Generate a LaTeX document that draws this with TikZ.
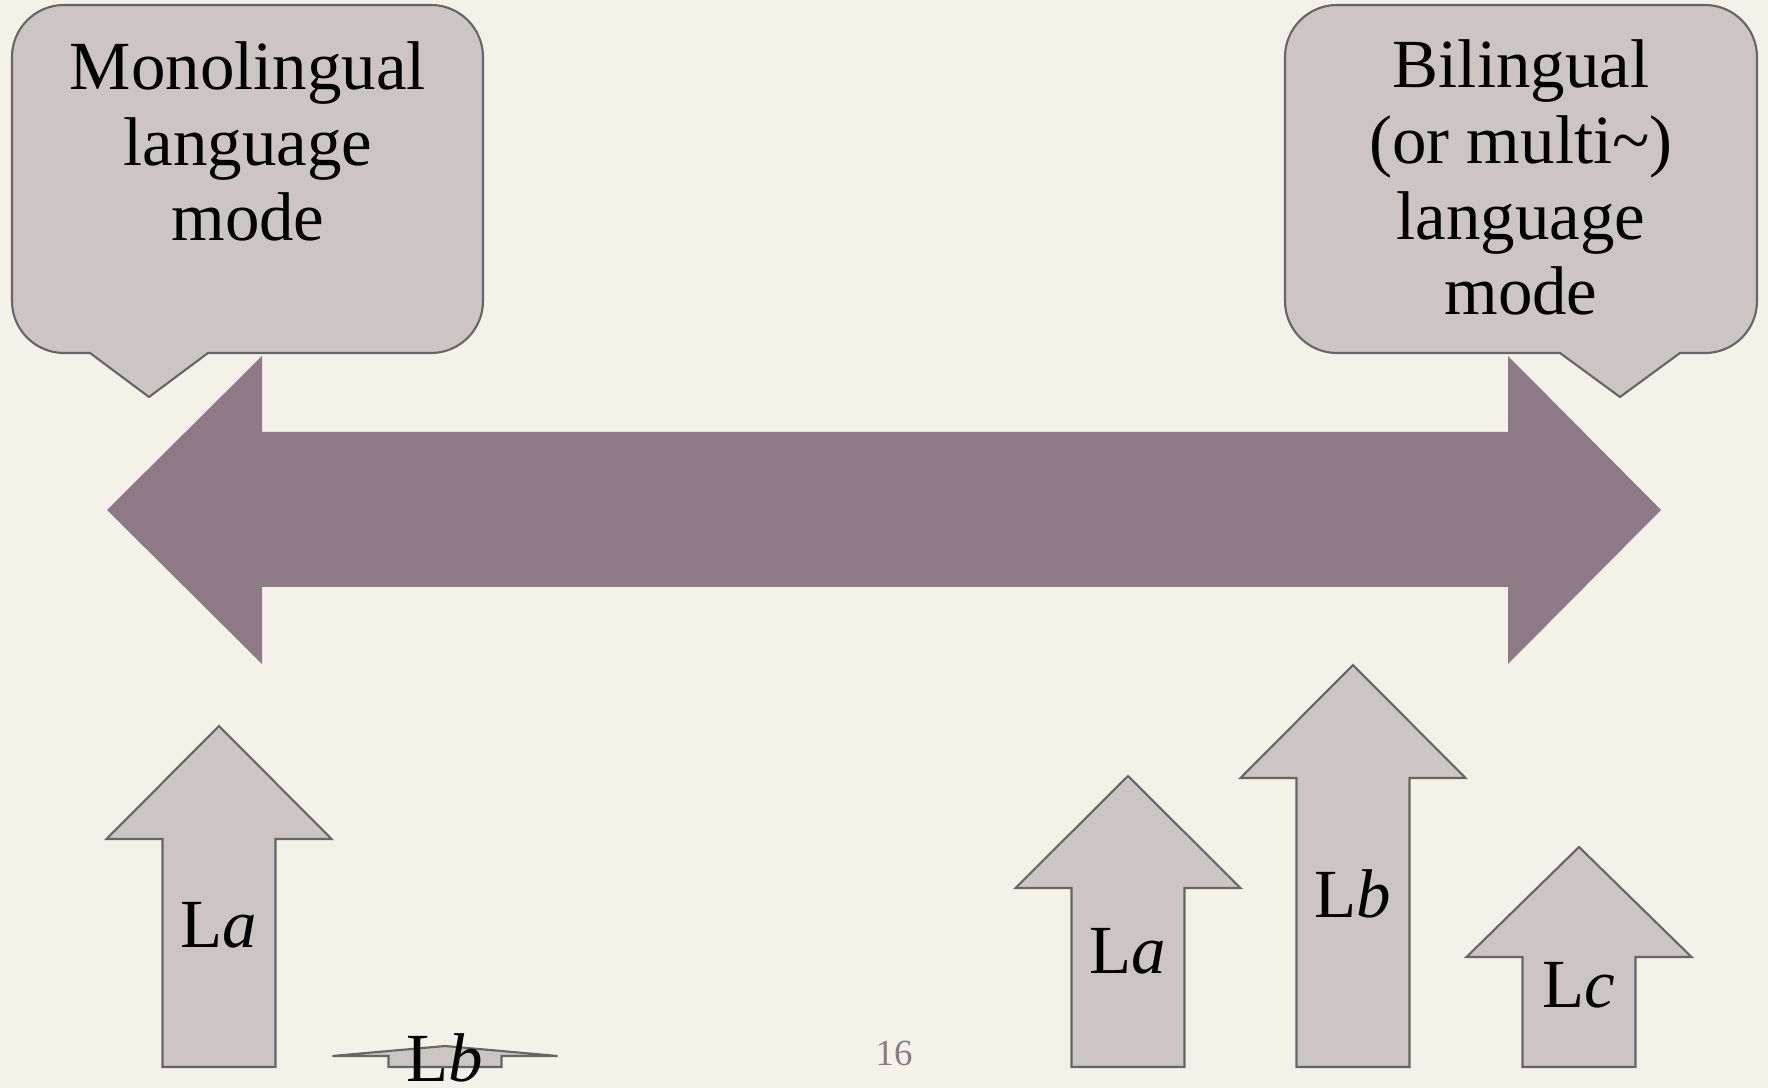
\documentclass[tikz,border=0pt]{standalone}
\usepackage{fontspec}
\setmainfont{Liberation Serif}
\definecolor{bg}{HTML}{F4F1E9}
\definecolor{boxfill}{HTML}{CDC4C4}
\definecolor{edge}{HTML}{666666}
\definecolor{bigarrow}{HTML}{8D7A86}
\definecolor{pagenum}{HTML}{8C7A87}
\newcommand\myuparrow[3]{%
  \draw[uparrowshape] (#1-56.5,1067) -- (#1-56.5,#3) -- (#1-112.5,#3) -- (#1,#2)
    -- (#1+112.5,#3) -- (#1+56.5,#3) -- (#1+56.5,1067) -- cycle;}
\begin{document}
\begin{tikzpicture}[x=0.01cm,y=-0.01cm,
  callout/.style={fill=boxfill,draw=edge,line width=0.6pt,line join=round},
  uparrowshape/.style={fill=boxfill,draw=edge,line width=0.6pt,line join=miter},
  calltext/.style={font=\fontsize{19.6}{21.6}\selectfont,align=center,inner sep=0pt,anchor=base,text=black},
  lab/.style={font=\fontsize{19.6}{21.6}\selectfont,inner sep=0pt,anchor=base,text=black}]
\useasboundingbox (0,0) rectangle (1768,1088);
\clip (0,0) rectangle (1768,1088);
\fill[bg] (0,0) rectangle (1768,1088);
% left callout
\draw[callout] (12,57) arc[start angle=180,end angle=270,radius=52] -- (431,5)
  arc[start angle=270,end angle=360,radius=52] -- (483,301)
  arc[start angle=0,end angle=90,radius=52] -- (208,353) -- (149,397) -- (90,353) -- (64,353)
  arc[start angle=90,end angle=180,radius=52] -- cycle;
% right callout
\draw[callout] (1285,57) arc[start angle=180,end angle=270,radius=52] -- (1705,5)
  arc[start angle=270,end angle=360,radius=52] -- (1757,301)
  arc[start angle=0,end angle=90,radius=52] -- (1680,353) -- (1620,397) -- (1560,353) -- (1337,353)
  arc[start angle=90,end angle=180,radius=52] -- cycle;
\node[calltext] (mono) at (248,241) {Monolingual\\language\\mode};
\node[calltext] (bil) at (1521,315) {Bilingual\\(or multi\textasciitilde)\\language\\mode};
% big double arrow
\fill[bigarrow] (107,510) -- (262,356) -- (262,432) -- (1508,432) -- (1508,356) -- (1661,510)
  -- (1508,664) -- (1508,587) -- (262,587) -- (262,664) -- cycle;
% up arrows
\myuparrow{219}{726}{839}
\myuparrow{445}{1046}{1056}
\myuparrow{1128}{776}{888}
\myuparrow{1353}{665}{778}
\myuparrow{1579}{847}{957}
\node[lab] (la1) at (219,948) {L\textit{a}};
\node[lab] (lb1) at (445,1082) {L\textit{b}};
\node[lab] (la2) at (1128,973) {L\textit{a}};
\node[lab] (lb2) at (1353,918) {L\textit{b}};
\node[lab] (lc2) at (1579,1008) {L\textit{c}};
\node[font=\fontsize{10.5}{12}\selectfont,text=pagenum,inner sep=0pt,anchor=base] (pg) at (894,1065) {16};
\end{tikzpicture}
\end{document}
